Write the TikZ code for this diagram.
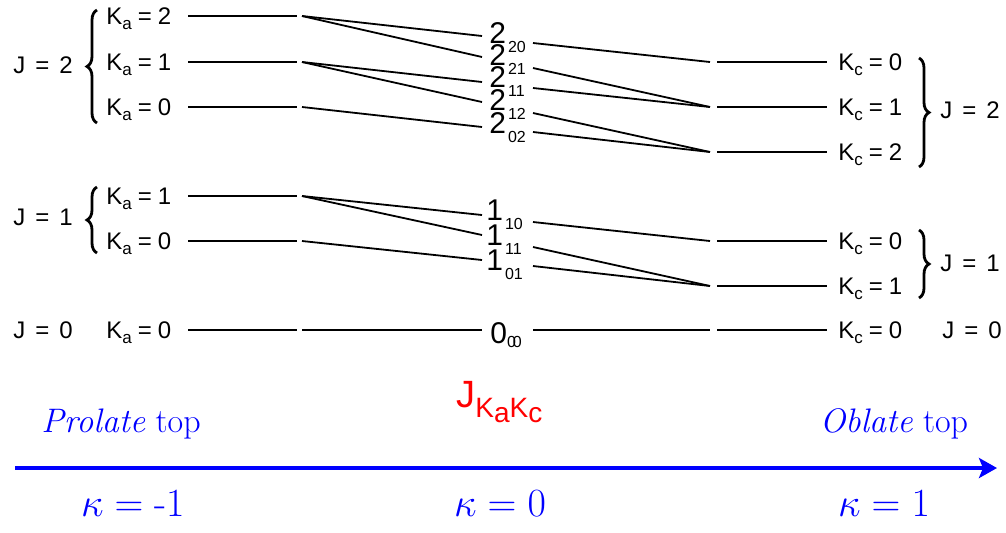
\RequirePackage{fix-cm}
\documentclass[tikz,border=0pt]{standalone}
\usepackage{fontspec}
\newfontfamily\labfont{Liberation Sans}
\usetikzlibrary{arrows.meta,decorations.pathreplacing}
\definecolor{axisblue}{RGB}{0,0,255}
\definecolor{labred}{RGB}{255,0,0}
\newcommand\Klab[2]{K\raisebox{-2.5pt}{\fontsize{8.5}{9}\selectfont #1}\kern3pt=\kern3pt#2}
\newcommand\Jlab[1]{J\kern5pt=\kern5pt#1}
\newcommand\Mlab[2]{#1\raisebox{-4.5pt}[0pt][0pt]{\fontsize{8}{9}\selectfont\kern1pt #2}}
\begin{document}
\begin{tikzpicture}[x=0.5pt,y=-0.5pt,
  lab/.style={font=\labfont\fontsize{12}{14}\selectfont, inner sep=0pt},
  mid/.style={font=\labfont\fontsize{15}{16}\selectfont, inner sep=0pt},
  lvl/.style={line width=0.9pt},
  conn/.style={line width=0.9pt},
  brc/.style={line width=1.4pt, decorate, decoration={brace, amplitude=5pt}},
  bluetxt/.style={text=axisblue, inner sep=0pt},
  axis/.style={draw=axisblue, line width=2pt, -{Stealth[length=9pt,width=10pt,inset=2pt]}}]
\useasboundingbox (0,0) rectangle (1006,532);

% ---------- left labels ----------
\node[lab,anchor=base west] (jl2) at (13,73) {\Jlab{2}};
\node[lab,anchor=base west] (jl1) at (13,225) {\Jlab{1}};
\node[lab,anchor=base west] (jl0) at (13,338) {\Jlab{0}};
\node[lab,anchor=base west] (ka22) at (106,24) {\Klab{a}{2}};
\node[lab,anchor=base west] (ka21) at (106,70) {\Klab{a}{1}};
\node[lab,anchor=base west] (ka20) at (106,115) {\Klab{a}{0}};
\node[lab,anchor=base west] (ka11) at (106,204) {\Klab{a}{1}};
\node[lab,anchor=base west] (ka10) at (106,249) {\Klab{a}{0}};
\node[lab,anchor=base west] (ka00) at (106,338) {\Klab{a}{0}};
\draw[brc] (97,123) -- (97,10);
\draw[brc] (97,253) -- (97,187);

% ---------- right labels ----------
\node[lab,anchor=base west] (kc20) at (838,70) {\Klab{c}{0}};
\node[lab,anchor=base west] (kc21) at (838,115) {\Klab{c}{1}};
\node[lab,anchor=base west] (kc22) at (838,160) {\Klab{c}{2}};
\node[lab,anchor=base west] (kc10) at (838,249) {\Klab{c}{0}};
\node[lab,anchor=base west] (kc11) at (838,294) {\Klab{c}{1}};
\node[lab,anchor=base west] (kc00) at (838,338) {\Klab{c}{0}};
\node[lab,anchor=base west] (jr2) at (940,118) {\Jlab{2}};
\node[lab,anchor=base west] (jr1) at (940,271) {\Jlab{1}};
\node[lab,anchor=base west] (jr0) at (942,338) {\Jlab{0}};
\draw[brc] (919,58) -- (919,167);
\draw[brc] (919,230) -- (919,298);

% ---------- middle labels ----------
\node[mid,anchor=base west] (m220) at (489,43) {\Mlab{2}{20}};
\node[mid,anchor=base west] (m221) at (489,65) {\Mlab{2}{21}};
\node[mid,anchor=base west] (m211) at (489,87) {\Mlab{2}{11}};
\node[mid,anchor=base west] (m212) at (489,110) {\Mlab{2}{12}};
\node[mid,anchor=base west] (m202) at (489,133) {\Mlab{2}{02}};
\node[mid,anchor=base west] (m110) at (486,220) {\Mlab{1}{10}};
\node[mid,anchor=base west] (m111) at (486,245) {\Mlab{1}{11}};
\node[mid,anchor=base west] (m101) at (486,270) {\Mlab{1}{01}};
\node[mid,anchor=base west] (m000) at (490,343) {0\raisebox{-2pt}[0pt][0pt]{\fontsize{8}{9}\selectfont 0\kern-1.5pt0}};

% ---------- level coordinates ----------
% left (prolate)
\foreach \n/\y in {p22/16,p21/62,p20/107,p11/196,p10/241,p00/330}{
  \coordinate (\n a) at (188,\y);
  \coordinate (\n b) at (297,\y);
  \coordinate (\n s) at (302,\y);
}
% right (oblate)
\foreach \n/\y in {o20/62,o21/107,o22/152,o10/241,o11/286,o00/330}{
  \coordinate (\n s) at (710,\y);
  \coordinate (\n a) at (717,\y);
  \coordinate (\n b) at (827,\y);
}
% middle ends
\foreach \n/\yl/\yr in {q220/36/43,q221/57/68,q211/82/88,q212/102/113,q202/127/132,q110/215/222,q111/235/247,q101/260/266,q000/330/330}{
  \coordinate (\n l) at (482,\yl);
  \coordinate (\n r) at (533,\yr);
}

% level lines
\foreach \n in {p22,p21,p20,p11,p10,p00,o20,o21,o22,o10,o11,o00}{
  \draw[lvl] (\n a) -- (\n b);
}

% correlation lines
\draw[conn] (p22s) -- (q220l);
\draw[conn] (p22s) -- (q221l);
\draw[conn] (p21s) -- (q211l);
\draw[conn] (p21s) -- (q212l);
\draw[conn] (p20s) -- (q202l);
\draw[conn] (q220r) -- (o20s);
\draw[conn] (q221r) -- (o21s);
\draw[conn] (q211r) -- (o21s);
\draw[conn] (q212r) -- (o22s);
\draw[conn] (q202r) -- (o22s);
\draw[conn] (p11s) -- (q110l);
\draw[conn] (p11s) -- (q111l);
\draw[conn] (p10s) -- (q101l);
\draw[conn] (q110r) -- (o10s);
\draw[conn] (q111r) -- (o11s);
\draw[conn] (q101r) -- (o11s);
\draw[conn] (p00s) -- (q000l);
\draw[conn] (q000r) -- (o00s);

% ---------- bottom ----------
\node[anchor=base west, inner sep=0pt, text=labred, font=\labfont\fontsize{19}{21}\selectfont] (jkk) at (456,407)
  {J\raisebox{-5pt}{\fontsize{14}{15}\selectfont K\raisebox{-2.5pt}{a}K\raisebox{-2.5pt}{c}}};
\node[bluetxt, anchor=base, font=\fontsize{17}{19}\selectfont] (prol) at (121,432) {\textit{Prolate} top};
\node[bluetxt, anchor=base, font=\fontsize{17}{19}\selectfont] (obl) at (894,432) {\textit{Oblate} top};
\coordinate (ax0) at (15,468);
\coordinate (ax1) at (997,468);
\draw[axis] (ax0) -- (ax1);
\node[bluetxt, anchor=base, font=\fontsize{20}{22}\selectfont] (km) at (133,516) {$\kappa = {}$-1};
\node[bluetxt, anchor=base, font=\fontsize{20}{22}\selectfont] (kz) at (500,516) {$\kappa = 0$};
\node[bluetxt, anchor=base, font=\fontsize{20}{22}\selectfont] (kp) at (884,516) {$\kappa = 1$};
\end{tikzpicture}
\end{document}
